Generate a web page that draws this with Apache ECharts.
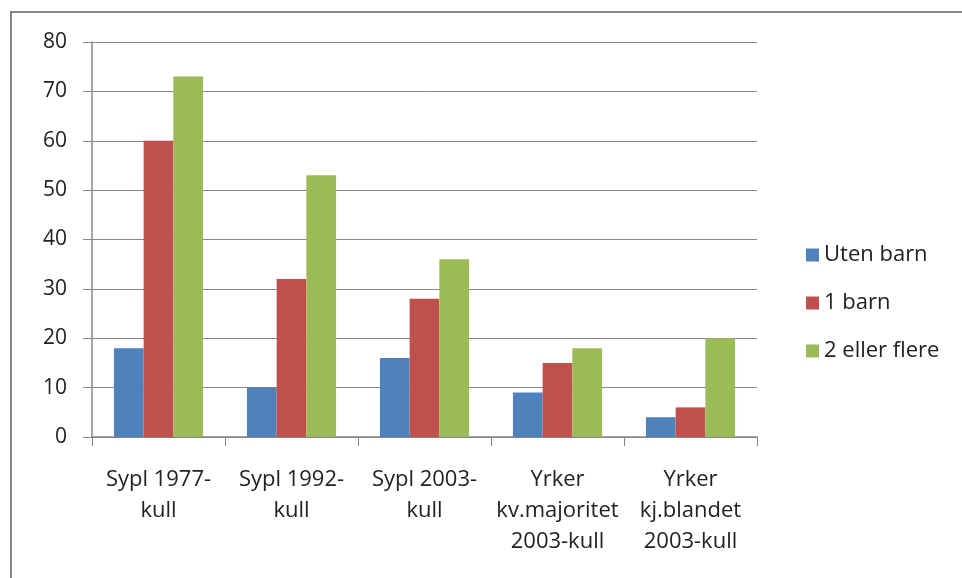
<!DOCTYPE html>
<html>
<head>
<meta charset="utf-8">
<script src="https://cdn.jsdelivr.net/npm/echarts@6/dist/echarts.min.js"></script>
<style>
  html, body { margin: 0; padding: 0; background: #fff; }
  #chart { width: 962px; height: 578px; }
</style>
</head>
<body>
<div id="chart"></div>
<script>
var categories = ['Sypl 1977-\nkull', 'Sypl 1992-\nkull', 'Sypl 2003-\nkull',
    'Yrker\nkv.majoritet\n2003-kull', 'Yrker\nkj.blandet\n2003-kull'];
var utenBarn = [18, 10, 16, 9, 4];
var ettBarn = [60, 32, 28, 15, 6];
var toEllerFlere = [73, 53, 36, 18, 20];
var seriesNames = ['Uten barn', '1 barn', '2 eller flere'];

var fontFam = '"Open Sans", Lato, sans-serif';
var myChart = echarts.init(document.getElementById('chart'));

var option = {
    animation: false,
    color: ['#4F81BD', '#C0504D', '#9BBB59'],
    graphic: [{
        type: 'rect',
        shape: { x: 11, y: 12, width: 1000, height: 1000 },
        style: { fill: 'none', stroke: '#878787', lineWidth: 2 },
        silent: true
    }],
    grid: { left: 92, right: 205, top: 42, bottom: 141 },
    legend: {
        orient: 'vertical',
        left: 801,
        top: 239,
        itemWidth: 13,
        itemHeight: 13,
        itemGap: 26,
        icon: 'rect',
        textStyle: { fontFamily: fontFam, fontSize: 22, color: '#222' },
        data: seriesNames
    },
    xAxis: {
        type: 'category',
        data: categories,
        axisLine: { lineStyle: { color: '#878787', width: 1.5 } },
        axisTick: { show: true, length: 9, alignWithLabel: false, lineStyle: { color: '#878787' } },
        axisLabel: {
            fontFamily: fontFam, fontSize: 22, color: '#222',
            lineHeight: 31, margin: 27, interval: 0
        }
    },
    yAxis: {
        type: 'value',
        min: 0, max: 80, interval: 10,
        axisLine: { show: true, lineStyle: { color: '#878787', width: 1.5 } },
        axisTick: { show: true, length: 9, lineStyle: { color: '#878787' } },
        splitLine: { lineStyle: { color: '#878787', width: 1 } },
        axisLabel: { fontFamily: fontFam, fontSize: 21, color: '#222', margin: 25 }
    },
    series: [
        { name: seriesNames[0], type: 'bar', data: utenBarn, barGap: '0%', barCategoryGap: '33%' },
        { name: seriesNames[1], type: 'bar', data: ettBarn, barGap: '0%', barCategoryGap: '33%' },
        { name: seriesNames[2], type: 'bar', data: toEllerFlere, barGap: '0%', barCategoryGap: '33%' }
    ]
};

myChart.setOption(option);
</script>
</body>
</html>
